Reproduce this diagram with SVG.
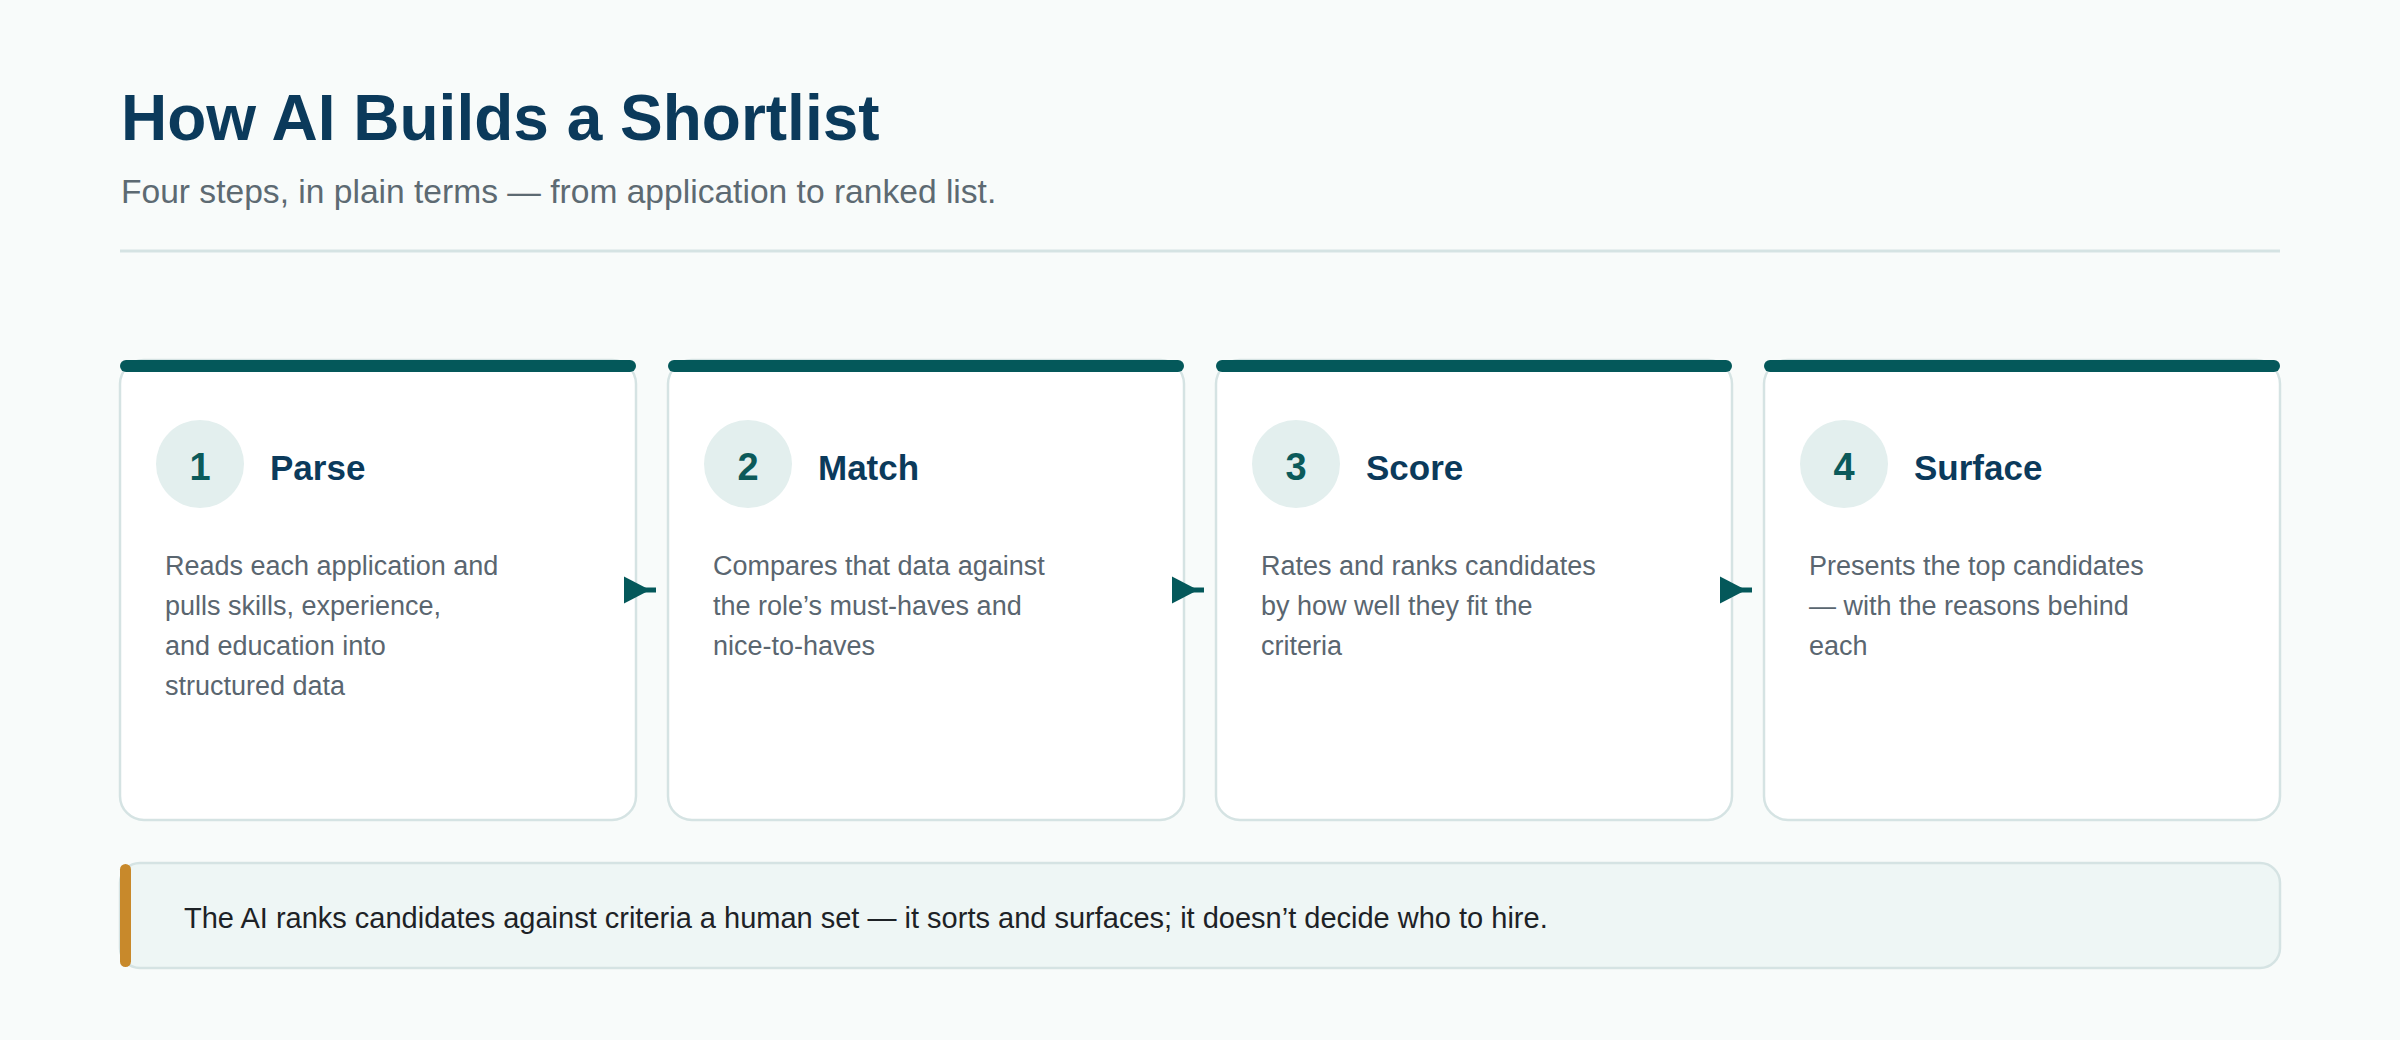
<svg xmlns="http://www.w3.org/2000/svg" width="2400" height="1040" viewBox="0 0 2400 1040">
  <defs>
    <style>
      .title { font-family: "Liberation Sans", Arial, sans-serif; font-weight: 700; font-size: 64px; fill: #0b3a5b; }
      .subtitle { font-family: "Liberation Sans", Arial, sans-serif; font-size: 33.6px; fill: #5d6a72; }
      .card { fill: #ffffff; stroke: #d5e3e3; stroke-width: 2.5; }
      .bar { fill: #04585a; }
      .badge { fill: #e3efee; }
      .num { font-family: "Liberation Sans", Arial, sans-serif; font-weight: 700; font-size: 38px; fill: #0b5a5a; text-anchor: middle; }
      .step { font-family: "Liberation Sans", Arial, sans-serif; font-weight: 700; font-size: 35px; fill: #0b3a5b; }
      .body { font-family: "Liberation Sans", Arial, sans-serif; font-size: 27px; fill: #5a6670; }
      .conn { stroke: #04585a; stroke-width: 5; fill: none; }
      .note { font-family: "Liberation Sans", Arial, sans-serif; font-size: 29px; fill: #1d2226; }
    </style>
    <marker id="arrow" markerUnits="userSpaceOnUse" markerWidth="32" markerHeight="28" refX="32" refY="13.5" orient="auto" overflow="visible">
      <path d="M0,0 L26,13.5 L0,27 Z" fill="#04585a"/>
    </marker>
  </defs>

  <rect x="0" y="0" width="2400" height="1040" fill="#f8fbfa"/>

  <g id="header">
    <text class="title" x="121" y="140">How AI Builds a Shortlist</text>
    <text class="subtitle" x="121" y="203">Four steps, in plain terms — from application to ranked list.</text>
    <rect x="120" y="249.5" width="2160" height="3" fill="#d5e3e3"/>
  </g>

  <g id="step1">
    <rect class="card" x="120" y="360" width="516" height="460" rx="24"/>
    <rect class="bar" x="120" y="360" width="516" height="12" rx="6"/>
    <circle class="badge" cx="200" cy="464" r="44"/>
    <text class="num" x="200" y="480">1</text>
    <text class="step" x="270" y="480">Parse</text>
    <text class="body" x="165" y="575">Reads each application and</text>
    <text class="body" x="165" y="615">pulls skills, experience,</text>
    <text class="body" x="165" y="655">and education into</text>
    <text class="body" x="165" y="695">structured data</text>
  </g>

  <g id="step2">
    <rect class="card" x="668" y="360" width="516" height="460" rx="24"/>
    <rect class="bar" x="668" y="360" width="516" height="12" rx="6"/>
    <circle class="badge" cx="748" cy="464" r="44"/>
    <text class="num" x="748" y="480">2</text>
    <text class="step" x="818" y="480">Match</text>
    <text class="body" x="713" y="575">Compares that data against</text>
    <text class="body" x="713" y="615">the role’s must-haves and</text>
    <text class="body" x="713" y="655">nice-to-haves</text>
  </g>

  <g id="step3">
    <rect class="card" x="1216" y="360" width="516" height="460" rx="24"/>
    <rect class="bar" x="1216" y="360" width="516" height="12" rx="6"/>
    <circle class="badge" cx="1296" cy="464" r="44"/>
    <text class="num" x="1296" y="480">3</text>
    <text class="step" x="1366" y="480">Score</text>
    <text class="body" x="1261" y="575">Rates and ranks candidates</text>
    <text class="body" x="1261" y="615">by how well they fit the</text>
    <text class="body" x="1261" y="655">criteria</text>
  </g>

  <g id="step4">
    <rect class="card" x="1764" y="360" width="516" height="460" rx="24"/>
    <rect class="bar" x="1764" y="360" width="516" height="12" rx="6"/>
    <circle class="badge" cx="1844" cy="464" r="44"/>
    <text class="num" x="1844" y="480">4</text>
    <text class="step" x="1914" y="480">Surface</text>
    <text class="body" x="1809" y="575">Presents the top candidates</text>
    <text class="body" x="1809" y="615">— with the reasons behind</text>
    <text class="body" x="1809" y="655">each</text>
  </g>

  <g id="connectors">
    <line class="conn" x1="636" y1="590" x2="656" y2="590" marker-end="url(#arrow)"/>
    <line class="conn" x1="1184" y1="590" x2="1204" y2="590" marker-end="url(#arrow)"/>
    <line class="conn" x1="1732" y1="590" x2="1752" y2="590" marker-end="url(#arrow)"/>
  </g>

  <g id="callout">
    <rect x="120" y="863" width="2160" height="105" rx="20" fill="#eef6f5" stroke="#d5e3e3" stroke-width="2.5"/>
    <rect x="120" y="864" width="11" height="103" rx="5.5" fill="#c8892b"/>
    <text class="note" x="184" y="928">The AI ranks candidates against criteria a human set — it sorts and surfaces; it doesn’t decide who to hire.</text>
  </g>
</svg>
